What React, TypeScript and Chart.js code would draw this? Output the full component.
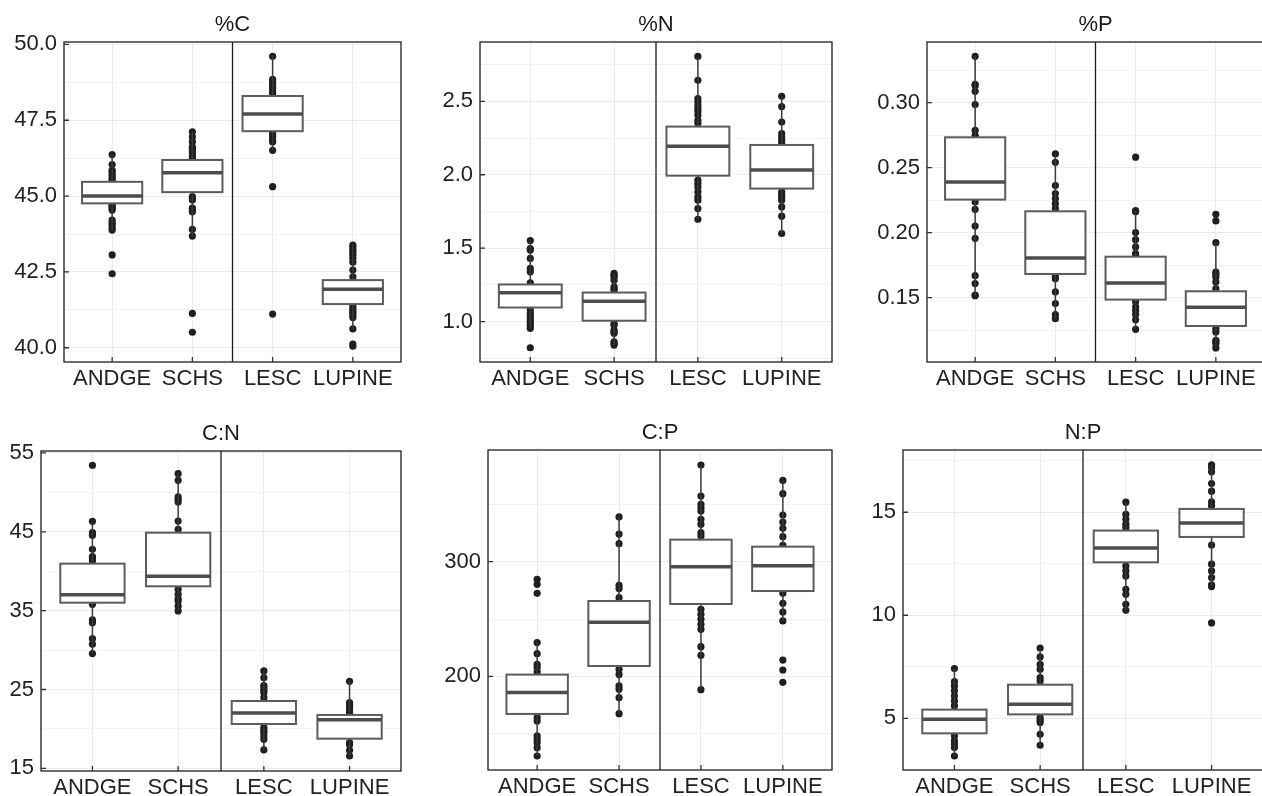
import React, { useEffect, useRef } from 'react';
import { Chart, registerables } from 'chart.js';

Chart.register(...registerables);
Chart.defaults.font.family = "'Liberation Sans', Arial, Helvetica, sans-serif";

// ---------------- data ----------------
const CATEGORIES = ['ANDGE', 'SCHS', 'LESC', 'LUPINE'];

// %C
const C_TICKS = [40, 42.5, 45, 47.5, 50];
const C_TICK_LABELS = ['40.0', '42.5', '45.0', '47.5', '50.0'];
const C_MINOR = [41.25, 43.75, 46.25, 48.75];
const C_Q1 = [44.76, 45.13, 47.14, 41.44];
const C_MEDIAN = [45.0, 45.77, 47.71, 41.93];
const C_Q3 = [45.47, 46.19, 48.3, 42.23];
const C_LOW = [43.88, 43.68, 46.51, 40.62];
const C_HIGH = [46.37, 47.12, 49.61, 43.38];
const C_POINTS = [
  [46.37, 46.04, 45.85, 45.8, 45.72, 45.64, 45.56, 45.5, 45.2, 45.0, 44.9, 44.7, 44.65, 44.6, 44.54, 44.21, 44.12, 44.05, 43.95, 43.88, 43.06, 42.44],
  [47.12, 46.95, 46.79, 46.62, 46.55, 46.48, 46.4, 46.33, 46.25, 45.9, 45.5, 44.98, 44.95, 44.87, 44.6, 44.54, 44.48, 43.9, 43.68, 41.13, 40.51],
  [49.61, 48.85, 48.78, 48.7, 48.62, 48.55, 48.45, 48.38, 48.0, 47.5, 47.1, 47.02, 46.95, 46.85, 46.78, 46.51, 45.31, 41.11],
  [43.38, 43.3, 43.22, 43.15, 43.05, 42.95, 42.82, 42.56, 42.34, 42.1, 41.7, 41.38, 41.3, 41.22, 41.15, 41.08, 41.0, 40.62, 40.12, 40.05],
];

// %N
const N_TICKS = [1.0, 1.5, 2.0, 2.5];
const N_TICK_LABELS = ['1.0', '1.5', '2.0', '2.5'];
const N_MINOR = [0.75, 1.25, 1.75, 2.25, 2.75];
const N_Q1 = [1.096, 1.006, 1.994, 1.906];
const N_MEDIAN = [1.196, 1.139, 2.194, 2.033];
const N_Q3 = [1.253, 1.198, 2.328, 2.203];
const N_LOW = [0.954, 0.84, 1.697, 1.6];
const N_HIGH = [1.552, 1.328, 2.806, 2.534];
const N_POINTS = [
  [1.552, 1.498, 1.487, 1.43, 1.362, 1.339, 1.264, 1.22, 1.15, 1.08, 1.056, 1.04, 1.022, 1.005, 0.988, 0.97, 0.954, 0.822],
  [1.328, 1.315, 1.305, 1.282, 1.237, 1.225, 1.214, 1.15, 1.05, 0.988, 0.975, 0.942, 0.93, 0.92, 0.863, 0.852, 0.84],
  [2.806, 2.643, 2.518, 2.495, 2.47, 2.45, 2.43, 2.405, 2.371, 2.35, 2.25, 2.1, 1.963, 1.94, 1.917, 1.883, 1.849, 1.827, 1.77, 1.697],
  [2.534, 2.464, 2.359, 2.28, 2.257, 2.235, 2.215, 2.1, 1.95, 1.883, 1.861, 1.845, 1.827, 1.781, 1.718, 1.6],
];

// %P
const P_TICKS = [0.15, 0.2, 0.25, 0.3];
const P_TICK_LABELS = ['0.15', '0.20', '0.25', '0.30'];
const P_MINOR = [0.125, 0.175, 0.225, 0.275, 0.325];
const P_Q1 = [0.2254, 0.1682, 0.1485, 0.1282];
const P_MEDIAN = [0.239, 0.1805, 0.1613, 0.1426];
const P_Q3 = [0.2733, 0.2164, 0.1815, 0.1549];
const P_LOW = [0.1515, 0.1338, 0.1256, 0.1113];
const P_HIGH = [0.3356, 0.2605, 0.2169, 0.1923];
const P_POINTS = [
  [0.3356, 0.3141, 0.313, 0.3087, 0.2985, 0.2787, 0.2749, 0.26, 0.245, 0.23, 0.2236, 0.2179, 0.2051, 0.1956, 0.1669, 0.1608, 0.152, 0.1515],
  [0.2605, 0.2541, 0.2362, 0.23, 0.2262, 0.2223, 0.2185, 0.2, 0.175, 0.166, 0.1645, 0.1544, 0.1454, 0.1369, 0.1338],
  [0.258, 0.2169, 0.216, 0.2, 0.1946, 0.189, 0.1838, 0.1825, 0.17, 0.155, 0.147, 0.143, 0.14, 0.137, 0.133, 0.1256],
  [0.2141, 0.209, 0.1923, 0.1697, 0.168, 0.1659, 0.1621, 0.1569, 0.15, 0.135, 0.1262, 0.1236, 0.1172, 0.116, 0.1146, 0.1113],
];

// C:N
const CN_TICKS = [15, 25, 35, 45, 55];
const CN_TICK_LABELS = ['15', '25', '35', '45', '55'];
const CN_MINOR = [20, 30, 40, 50];
const CN_Q1 = [36.01, 38.09, 20.62, 18.76];
const CN_MEDIAN = [37.03, 39.36, 22.02, 21.17];
const CN_Q3 = [40.96, 44.89, 23.54, 21.77];
const CN_LOW = [29.55, 34.96, 17.33, 16.56];
const CN_HIGH = [46.33, 52.38, 27.35, 26.04];
const CN_POINTS = [
  [53.44, 46.33, 44.89, 44.56, 42.78, 41.85, 41.6, 41.3, 39, 37, 35.8, 33.82, 33.48, 31.45, 30.73, 29.55],
  [52.38, 51.53, 49.42, 49.1, 48.78, 46.37, 45.31, 42, 39, 37.71, 37.07, 36.5, 36.23, 35.59, 34.96],
  [27.35, 26.5, 25.5, 25.23, 24.9, 24.6, 23.96, 22, 20.16, 19.8, 19.52, 19.1, 18.68, 17.33],
  [26.04, 23.33, 23.1, 22.91, 22.48, 22.06, 20, 18.26, 18.0, 17.28, 16.56],
];

// C:P
const CP_TICKS = [200, 300];
const CP_TICK_LABELS = ['200', '300'];
const CP_MINOR = [150, 250, 350];
const CP_Q1 = [167.2, 209.0, 263.1, 274.4];
const CP_MEDIAN = [185.8, 247.1, 295.6, 296.5];
const CP_Q3 = [201.5, 265.7, 319.2, 313.1];
const CP_LOW = [130.5, 167.4, 188.4, 248.3];
const CP_HIGH = [229.4, 339.0, 384.3, 370.9];
const CP_POINTS = [
  [284.6, 280.2, 272.4, 229.4, 219.8, 210.5, 207.6, 203.8, 190, 175, 164, 161, 148, 145.1, 142, 137.8, 130.5],
  [339.0, 324.1, 315.7, 279.4, 276.5, 268.6, 250, 230, 206.1, 201.7, 191.6, 188.7, 181.4, 167.4],
  [384.3, 357.3, 350.0, 347, 344.2, 336.9, 332.6, 325.3, 322.4, 300, 280, 258.4, 254.1, 249.7, 245.3, 241.0, 225.9, 218.3, 188.4],
  [370.9, 359.3, 340.7, 334.6, 329.1, 321.8, 314.2, 295, 272.4, 263.7, 256.1, 248.3, 214.2, 205.5, 194.8],
];

// N:P
const NP_TICKS = [5, 10, 15];
const NP_TICK_LABELS = ['5', '10', '15'];
const NP_MINOR = [2.5, 7.5, 12.5, 17.5];
const NP_Q1 = [4.27, 5.19, 12.57, 13.8];
const NP_MEDIAN = [4.95, 5.68, 13.27, 14.48];
const NP_Q3 = [5.42, 6.63, 14.11, 15.16];
const NP_LOW = [3.17, 3.69, 10.24, 11.39];
const NP_HIGH = [7.41, 8.41, 15.49, 17.3];
const NP_POINTS = [
  [7.41, 6.78, 6.57, 6.33, 6.08, 5.84, 5.6, 5.0, 4.14, 3.9, 3.75, 3.58, 3.17],
  [8.41, 7.98, 7.62, 7.38, 6.97, 6.81, 6.0, 5.03, 4.9, 4.79, 4.22, 3.69],
  [15.49, 14.9, 14.66, 14.42, 14.25, 13.5, 12.39, 12.15, 11.91, 11.26, 11.02, 10.53, 10.24],
  [17.3, 17.17, 16.96, 16.39, 16.02, 15.5, 15.31, 14.5, 13.41, 12.48, 12.15, 11.83, 11.47, 11.39, 9.63],
];

// ---------------- layout / style ----------------
const Y_AXIS_W = 70;
const RIGHT_PAD = 10;
const TITLE_H = 31;
const X_AXIS_H = 44;
const TEXT_COLOR = '#222222';

type Spec = {
  title: string;
  yMin: number; yMax: number;
  ticks: number[]; tickLabels: string[]; minor: number[];
  q1: number[]; med: number[]; q3: number[]; lo: number[]; hi: number[];
  points: number[][];
  left: number; top: number; w: number; h: number;
};

const PANELS: Spec[] = [
  { title: '%C', yMin: 39.53, yMax: 50.08, ticks: C_TICKS, tickLabels: C_TICK_LABELS, minor: C_MINOR,
    q1: C_Q1, med: C_MEDIAN, q3: C_Q3, lo: C_LOW, hi: C_HIGH, points: C_POINTS, left: 64, top: 42, w: 337, h: 320 },
  { title: '%N', yMin: 0.725, yMax: 2.904, ticks: N_TICKS, tickLabels: N_TICK_LABELS, minor: N_MINOR,
    q1: N_Q1, med: N_MEDIAN, q3: N_Q3, lo: N_LOW, hi: N_HIGH, points: N_POINTS, left: 480, top: 42, w: 352, h: 320 },
  { title: '%P', yMin: 0.1005, yMax: 0.3466, ticks: P_TICKS, tickLabels: P_TICK_LABELS, minor: P_MINOR,
    q1: P_Q1, med: P_MEDIAN, q3: P_Q3, lo: P_LOW, hi: P_HIGH, points: P_POINTS, left: 927, top: 42, w: 337, h: 320 },
  { title: 'C:N', yMin: 14.66, yMax: 55.25, ticks: CN_TICKS, tickLabels: CN_TICK_LABELS, minor: CN_MINOR,
    q1: CN_Q1, med: CN_MEDIAN, q3: CN_Q3, lo: CN_LOW, hi: CN_HIGH, points: CN_POINTS, left: 41, top: 451, w: 360, h: 320 },
  { title: 'C:P', yMin: 118.3, yMax: 397.4, ticks: CP_TICKS, tickLabels: CP_TICK_LABELS, minor: CP_MINOR,
    q1: CP_Q1, med: CP_MEDIAN, q3: CP_Q3, lo: CP_LOW, hi: CP_HIGH, points: CP_POINTS, left: 488, top: 450, w: 344, h: 320 },
  { title: 'N:P', yMin: 2.49, yMax: 18.02, ticks: NP_TICKS, tickLabels: NP_TICK_LABELS, minor: NP_MINOR,
    q1: NP_Q1, med: NP_MEDIAN, q3: NP_Q3, lo: NP_LOW, hi: NP_HIGH, points: NP_POINTS, left: 903, top: 450, w: 360, h: 320 },
];

function isMajor(spec: Spec, v: number) {
  return spec.ticks.some((t) => Math.abs(t - v) < 1e-9 * Math.max(1, Math.abs(t)));
}

function makeBoxPlugin(spec: Spec) {
  return {
    id: 'boxplotOverlay',
    afterDatasetsDraw(chart: any) {
      const { ctx, chartArea: a } = chart;
      const xs = chart.scales.x;
      const ys = chart.scales.y;
      ctx.save();
      ctx.lineCap = 'butt';
      for (let i = 0; i < CATEGORIES.length; i++) {
        const cx = xs.getPixelForValue(i + 1);
        const hw = xs.getPixelForValue(i + 1 + 0.375) - cx;
        const yHi = ys.getPixelForValue(spec.hi[i]);
        const yLo = ys.getPixelForValue(spec.lo[i]);
        const yQ1 = ys.getPixelForValue(spec.q1[i]);
        const yQ3 = ys.getPixelForValue(spec.q3[i]);
        const yMed = ys.getPixelForValue(spec.med[i]);
        // whiskers
        ctx.strokeStyle = '#3a3a3a';
        ctx.lineWidth = 1.5;
        ctx.beginPath();
        ctx.moveTo(cx, yHi); ctx.lineTo(cx, yQ3);
        ctx.moveTo(cx, yQ1); ctx.lineTo(cx, yLo);
        ctx.stroke();
        // box
        ctx.fillStyle = '#ffffff';
        ctx.fillRect(cx - hw, yQ3, 2 * hw, yQ1 - yQ3);
        ctx.strokeStyle = '#5c5c5c';
        ctx.lineWidth = 2;
        ctx.strokeRect(cx - hw, yQ3, 2 * hw, yQ1 - yQ3);
        // median
        ctx.strokeStyle = '#4d4d4d';
        ctx.lineWidth = 3.5;
        ctx.beginPath();
        ctx.moveTo(cx - hw, yMed); ctx.lineTo(cx + hw, yMed);
        ctx.stroke();
      }
      // panel border
      ctx.strokeStyle = '#1e1e1e';
      ctx.lineWidth = 1.3;
      ctx.strokeRect(a.left, a.top, a.right - a.left, a.bottom - a.top);
      // separator between the two pairs
      const sx = xs.getPixelForValue(2.5);
      ctx.beginPath();
      ctx.moveTo(sx, a.top); ctx.lineTo(sx, a.bottom);
      ctx.stroke();
      // inward tick marks
      ctx.strokeStyle = '#333333';
      ctx.lineWidth = 1.3;
      ctx.beginPath();
      for (const t of spec.ticks) {
        const py = ys.getPixelForValue(t);
        ctx.moveTo(a.left, py); ctx.lineTo(a.left + 5, py);
      }
      for (let i = 0; i < CATEGORIES.length; i++) {
        const px = xs.getPixelForValue(i + 1);
        ctx.moveTo(px, a.bottom); ctx.lineTo(px, a.bottom - 5);
      }
      ctx.stroke();
      ctx.restore();
    },
  };
}

function Panel({ spec }: { spec: Spec }) {
  const ref = useRef<HTMLCanvasElement>(null);
  const cw = Y_AXIS_W + spec.w + RIGHT_PAD;
  const ch = TITLE_H + spec.h + X_AXIS_H;

  useEffect(() => {
    if (!ref.current) return;
    const allTicks = [...spec.ticks, ...spec.minor].sort((a, b) => a - b);
    const data = spec.points.flatMap((arr, i) => arr.map((v) => ({ x: i + 1, y: v })));
    const chart = new Chart(ref.current, {
      type: 'scatter',
      data: {
        datasets: [
          {
            data,
            pointRadius: 3.6,
            pointHoverRadius: 3.6,
            backgroundColor: '#1f1f1f',
            borderWidth: 0,
          },
        ],
      },
      options: {
        responsive: false,
        maintainAspectRatio: false,
        animation: false,
        events: [],
        layout: { padding: { left: 0, top: 0, right: RIGHT_PAD, bottom: 0 } },
        plugins: {
          legend: { display: false },
          tooltip: { enabled: false },
          title: {
            display: true,
            text: spec.title,
            fullSize: false,
            color: '#1a1a1a',
            font: { size: 22, weight: 'normal', lineHeight: '26px' } as any,
            padding: { top: 1, bottom: 4 },
          },
        },
        scales: {
          x: {
            type: 'linear',
            min: 0.4,
            max: 4.6,
            afterBuildTicks: (s: any) => {
              s.ticks = CATEGORIES.map((_, i) => ({ value: i + 1 }));
            },
            afterFit: (s: any) => {
              s.height = X_AXIS_H;
            },
            grid: { color: '#ebebeb', lineWidth: 1, drawTicks: false },
            border: { display: false },
            ticks: {
              autoSkip: false,
              maxRotation: 0,
              minRotation: 0,
              padding: 4,
              color: TEXT_COLOR,
              font: { size: 22 },
              callback: (v: any) => CATEGORIES[Math.round(Number(v)) - 1] ?? '',
            },
          },
          y: {
            type: 'linear',
            min: spec.yMin,
            max: spec.yMax,
            afterBuildTicks: (s: any) => {
              s.ticks = allTicks.map((v) => ({ value: v }));
            },
            afterFit: (s: any) => {
              s.width = Y_AXIS_W;
            },
            grid: {
              color: (ctx: any) => (ctx.tick && isMajor(spec, ctx.tick.value) ? '#ebebeb' : '#f3f3f3'),
              lineWidth: 1,
              drawTicks: false,
            },
            border: { display: false },
            ticks: {
              autoSkip: false,
              padding: 7,
              color: TEXT_COLOR,
              font: { size: 22 },
              callback: (v: any) => {
                const idx = spec.ticks.findIndex((t) => Math.abs(t - Number(v)) < 1e-9 * Math.max(1, Math.abs(t)));
                return idx >= 0 ? spec.tickLabels[idx] : '';
              },
            },
          },
        },
      },
      plugins: [makeBoxPlugin(spec)],
    } as any);
    return () => chart.destroy();
  }, [spec]);

  return (
    <canvas
      ref={ref}
      width={cw}
      height={ch}
      style={{
        position: 'absolute',
        left: spec.left - Y_AXIS_W,
        top: spec.top - TITLE_H,
        width: cw,
        height: ch,
      }}
    />
  );
}

export default function App() {
  return (
    <div
      style={{
        position: 'fixed',
        left: 0,
        top: 0,
        width: 1262,
        height: 796,
        overflow: 'hidden',
        background: '#ffffff',
      }}
    >
      {PANELS.map((p) => (
        <Panel key={p.title} spec={p} />
      ))}
    </div>
  );
}
